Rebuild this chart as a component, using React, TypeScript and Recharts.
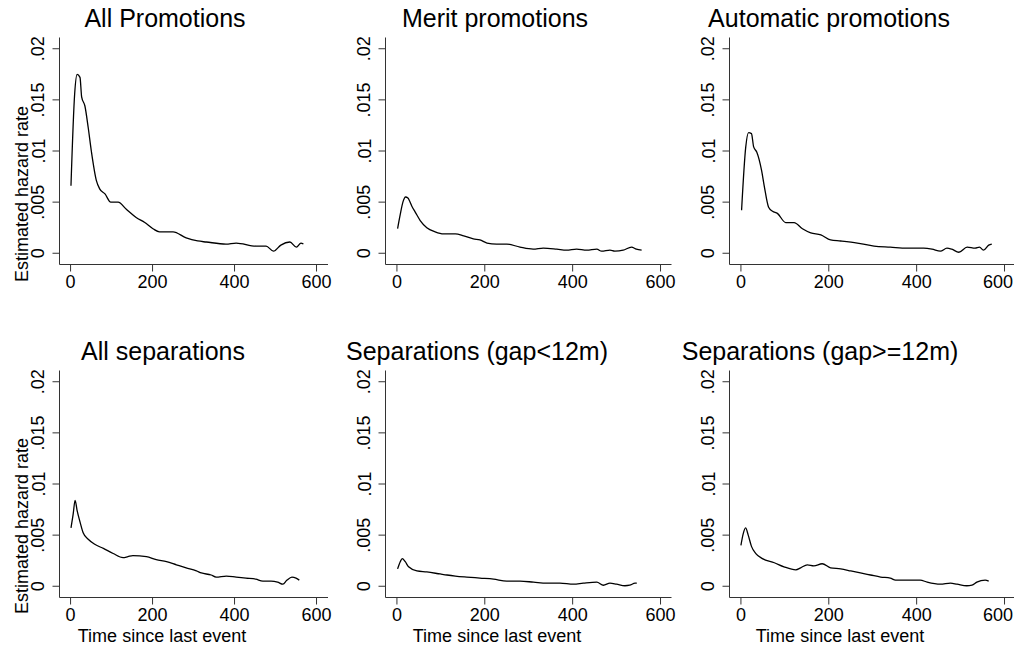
import React from 'react'
import { LineChart, Line, XAxis, YAxis } from 'recharts'

// ── Data ──────────────────────────────────────────────────────────────────────

const allPromoT = [1, 10, 16, 23, 27, 35, 43, 51, 63, 71, 84, 98, 116, 136, 160, 181, 201, 217, 250, 282, 310, 331, 379, 404, 452, 477, 495, 513, 535, 551, 562, 568]
const allPromoV = [0.0066, 0.0156, 0.0175, 0.0172, 0.0153, 0.0144, 0.0123, 0.0099, 0.0071, 0.0063, 0.0058, 0.005, 0.005, 0.0043, 0.0035, 0.003, 0.0024, 0.0021, 0.0021, 0.0015, 0.0012, 0.0011, 0.0009, 0.001, 0.0007, 0.0007, 0.0002, 0.0008, 0.0011, 0.0006, 0.001, 0.0009]

const meritT = [1.5, 7.6, 13.6, 19.7, 25, 34, 42, 53, 68, 87, 106, 133, 152, 174, 189, 205, 227, 250, 280, 310, 333, 364, 386, 409, 432, 455, 466, 485, 496, 515, 534, 545, 557]
const meritV = [0.0024, 0.0038, 0.005, 0.0055, 0.0054, 0.0046, 0.004, 0.0032, 0.0025, 0.0021, 0.0019, 0.0019, 0.0017, 0.0014, 0.0013, 0.001, 0.0009, 0.0009, 0.0006, 0.0004, 0.0005, 0.0004, 0.0003, 0.0004, 0.0003, 0.0004, 0.0002, 0.0003, 0.0002, 0.0003, 0.0006, 0.0004, 0.0003]

const autoT = [1.5, 11, 17.4, 24, 29, 36, 47, 53, 63, 72, 83, 102, 121, 140, 159, 182, 204, 227, 265, 303, 340, 378, 416, 435, 454, 469, 480, 496, 515, 533, 543, 552, 564, 571]
const autoV = [0.0042, 0.0104, 0.0118, 0.0117, 0.0104, 0.0099, 0.0081, 0.0066, 0.0045, 0.0041, 0.0039, 0.003, 0.003, 0.0024, 0.002, 0.0018, 0.0013, 0.0012, 0.001, 0.0007, 0.0006, 0.0005, 0.0005, 0.0004, 0.0002, 0.0005, 0.0004, 0.0001, 0.0006, 0.0005, 0.0006, 0.0003, 0.0008, 0.0009]

const allSepT = [1, 6.5, 11, 16, 23, 31, 43, 59, 80, 104, 128, 140, 152, 185, 209, 234, 258, 282, 307, 319, 343, 355, 380, 404, 428, 452, 469, 489, 505, 518, 528, 540, 550, 558]
const allSepV = [0.0057, 0.0071, 0.0084, 0.0074, 0.0063, 0.0052, 0.0046, 0.0041, 0.0037, 0.0032, 0.0028, 0.0029, 0.003, 0.0029, 0.0026, 0.0024, 0.0021, 0.0018, 0.0015, 0.0013, 0.0011, 0.0009, 0.001, 0.0009, 0.0008, 0.0007, 0.0005, 0.0005, 0.0004, 0.0002, 0.0006, 0.0009, 0.0008, 0.0006]

const sepShortT = [1.5, 7.6, 12, 19, 26.5, 45.5, 68, 98.5, 114, 133, 159, 189, 220, 250, 280, 311, 341, 371, 402, 424, 455, 470, 485, 500, 519, 530, 542, 546]
const sepShortV = [0.0017, 0.0024, 0.0027, 0.0024, 0.0019, 0.0015, 0.0014, 0.0012, 0.0011, 0.001, 0.0009, 0.0008, 0.0007, 0.0005, 0.0005, 0.0004, 0.0003, 0.0003, 0.0002, 0.0003, 0.0004, 0.0001, 0.0003, 0.0002, 0.00005, 0.0001, 0.0003, 0.0003]

const sepLongT = [0, 5, 10.6, 16.6, 24, 34, 49, 76, 98, 125, 136, 151, 166, 185, 204, 227, 250, 272, 295, 318, 340, 352, 378, 408, 424, 454, 477, 492, 514, 526, 537, 556, 564]
const sepLongV = [0.004, 0.0051, 0.0057, 0.005, 0.0039, 0.0032, 0.0027, 0.0023, 0.0019, 0.0016, 0.0018, 0.0021, 0.002, 0.0022, 0.0018, 0.0017, 0.0015, 0.0013, 0.0011, 0.0009, 0.0008, 0.0006, 0.0006, 0.0006, 0.0004, 0.0002, 0.0003, 0.0002, 0.00005, 0.0001, 0.0004, 0.0006, 0.0005]

const titles = [
  'All Promotions', 'Merit promotions', 'Automatic promotions',
  'All separations', 'Separations (gap<12m)', 'Separations (gap>=12m)',
]

const xTicks = [0, 200, 400, 600]
const yTicks = [0, 0.005, 0.01, 0.015, 0.02]
const yTickLabels = ['0', '.005', '.01', '.015', '.02']

const yTitle = 'Estimated hazard rate'
const xTitle = 'Time since last event'

// ── Layout ────────────────────────────────────────────────────────────────────

const FONT = "'Liberation Sans', Arial, Helvetica, sans-serif"
const AXIS = '#333'
const PAGE_W = 1014
const Y_DOMAIN: [number, number] = [-0.0011, 0.0211]
const PLOT_H = 227
const Y_W = 60
const X_H = 40
const PAD_R = 30 // room for the "600" tick label

const cols = [
  { left: 59.5, width: 268.5, xDomain: [-27, 628] as [number, number], titleX: 165, xTitleX: 162 },
  { left: 385.5, width: 286, xDomain: [-26, 625] as [number, number], titleX: 495, xTitleX: 497 },
  { left: 729.5, width: 286, xDomain: [-26, 625] as [number, number], titleX: 829, xTitleX: 840 },
]
const rows = [
  { top: 37.5, titleY: 26.7, yTitleY: 194 },
  { top: 370.5, titleY: 360, yTitleY: 526 },
]
const bottomTitleX = [163, 477, 820]

const series = [
  [allPromoT, allPromoV], [meritT, meritV], [autoT, autoV],
  [allSepT, allSepV], [sepShortT, sepShortV], [sepLongT, sepLongV],
].map(([t, v]) => t.map((tt, i) => ({ t: tt, v: v[i] })))

// ── Components ────────────────────────────────────────────────────────────────

function YTick(props: any) {
  const { x, y, payload } = props
  const idx = yTicks.indexOf(payload.value)
  return (
    <text
      x={x}
      y={y}
      transform={`rotate(-90 ${x} ${y})`}
      textAnchor="middle"
      fontSize={18}
      fontFamily={FONT}
      fill="#000"
    >
      {idx >= 0 ? yTickLabels[idx] : payload.value}
    </text>
  )
}

// keeps the last label inside the page when the panel runs to the edge
function XTick(props: any) {
  const { x, y, payload, maxX } = props
  const label = String(payload.value)
  const half = label.length * 0.556 * 18 / 2
  const cx = Math.min(x, maxX - half)
  return (
    <text x={cx} y={y} dy="0.71em" textAnchor="middle" fontSize={18} fontFamily={FONT} fill="#000">
      {label}
    </text>
  )
}

function Panel({ data, left, top, width, xDomain }: {
  data: { t: number; v: number }[]
  left: number
  top: number
  width: number
  xDomain: [number, number]
}) {
  const x0 = Math.floor(left) - Y_W
  const y0 = Math.floor(top) - 5
  const ml = left - Math.floor(left)
  const mt = 5 + top - Math.floor(top)
  const maxX = PAGE_W - 1 - x0
  return (
    <div style={{ position: 'absolute', left: x0, top: y0 }}>
      <LineChart
        width={Y_W + ml + width + PAD_R}
        height={mt + PLOT_H + X_H}
        data={data}
        margin={{ top: mt, right: PAD_R, bottom: 0, left: ml }}
      >
        <XAxis
          type="number"
          dataKey="t"
          domain={xDomain}
          ticks={xTicks}
          interval={0}
          allowDataOverflow
          height={X_H}
          tickSize={7}
          tickMargin={4}
          stroke={AXIS}
          tick={(p: any) => <XTick {...p} maxX={maxX} />}
        />
        <YAxis
          type="number"
          domain={Y_DOMAIN}
          ticks={yTicks}
          interval={0}
          allowDataOverflow
          width={Y_W}
          tickSize={7}
          tickMargin={8}
          stroke={AXIS}
          tick={(p: any) => <YTick {...p} />}
        />
        <Line
          type="monotone"
          dataKey="v"
          stroke="#000"
          strokeWidth={1.3}
          dot={false}
          isAnimationActive={false}
        />
      </LineChart>
    </div>
  )
}

export default function App() {
  return (
    <div style={{ position: 'absolute', left: 0, top: 0, width: PAGE_W, height: 648, background: '#fff', overflow: 'hidden' }}>
      {rows.map((r, ri) =>
        cols.map((c, ci) => (
          <Panel
            key={`${ri}-${ci}`}
            data={series[ri * 3 + ci]}
            left={c.left}
            top={r.top}
            width={c.width}
            xDomain={c.xDomain}
          />
        ))
      )}
      <svg
        width={PAGE_W}
        height={648}
        style={{ position: 'absolute', left: 0, top: 0, pointerEvents: 'none' }}
        fontFamily={FONT}
      >
        {rows.map((r, ri) =>
          cols.map((c, ci) => (
            <text
              key={`t-${ri}-${ci}`}
              x={ri === 0 ? c.titleX : bottomTitleX[ci]}
              y={r.titleY}
              textAnchor="middle"
              fontSize={25}
              fill="#000"
            >
              {titles[ri * 3 + ci]}
            </text>
          ))
        )}
        {rows.map((r, ri) => (
          <text
            key={`yt-${ri}`}
            x={28}
            y={r.yTitleY}
            transform={`rotate(-90 28 ${r.yTitleY})`}
            textAnchor="middle"
            fontSize={18}
            fill="#000"
          >
            {yTitle}
          </text>
        ))}
        {cols.map((c, ci) => (
          <text key={`xt-${ci}`} x={c.xTitleX} y={641.5} textAnchor="middle" fontSize={18} fill="#000">
            {xTitle}
          </text>
        ))}
      </svg>
    </div>
  )
}
